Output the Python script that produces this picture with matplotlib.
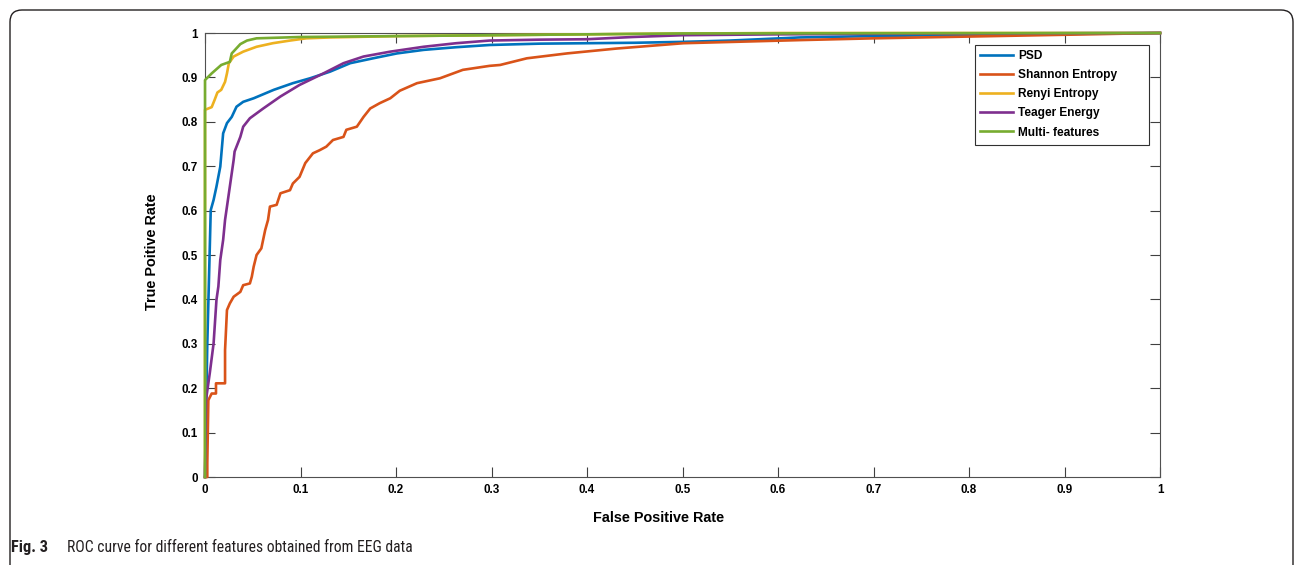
import numpy as np
import matplotlib
matplotlib.use("Agg")
from matplotlib import pyplot as plt
from matplotlib.patches import FancyBboxPatch, Rectangle

# ROC points (false positive rate, true positive rate)
psd_fpr = [0, 0.0024, 0.0045, 0.006, 0.009, 0.012, 0.016, 0.019, 0.023, 0.028, 0.033, 0.040, 0.051,
           0.072, 0.092, 0.110, 0.131, 0.152, 0.176, 0.201, 0.229, 0.263, 0.298, 0.35, 0.40, 0.45,
           0.50, 0.55, 0.623, 0.70, 0.80, 0.90, 1.0]
psd_tpr = [0, 0.301, 0.474, 0.601, 0.624, 0.654, 0.699, 0.774, 0.797, 0.811, 0.834, 0.845, 0.853,
           0.872, 0.887, 0.898, 0.913, 0.932, 0.943, 0.954, 0.962, 0.968, 0.973, 0.976, 0.977, 0.978,
           0.980, 0.983, 0.990, 0.993, 0.996, 0.998, 1.0]

shannon_fpr = [0, 0.0024, 0.0024, 0.0035, 0.007, 0.0115, 0.0115, 0.021, 0.021, 0.023, 0.026, 0.030,
               0.037, 0.040, 0.047, 0.049, 0.051, 0.054, 0.059, 0.063, 0.066, 0.068, 0.075, 0.079,
               0.089, 0.092, 0.099, 0.105, 0.113, 0.120, 0.127, 0.134, 0.145, 0.148, 0.159, 0.166,
               0.173, 0.183, 0.194, 0.204, 0.222, 0.246, 0.270, 0.298, 0.309, 0.337, 0.379, 0.431,
               0.501, 0.553, 0.623, 0.70, 0.80, 0.90, 1.0]
shannon_tpr = [0, 0.0, 0.031, 0.173, 0.188, 0.188, 0.211, 0.211, 0.286, 0.376, 0.391, 0.406,
               0.417, 0.432, 0.436, 0.451, 0.474, 0.500, 0.515, 0.556, 0.579, 0.609, 0.613, 0.639,
               0.646, 0.661, 0.676, 0.707, 0.729, 0.736, 0.744, 0.759, 0.766, 0.782, 0.789, 0.811,
               0.830, 0.842, 0.853, 0.870, 0.887, 0.898, 0.917, 0.926, 0.928, 0.943, 0.954, 0.965,
               0.977, 0.980, 0.984, 0.988, 0.992, 0.996, 1.0]

renyi_fpr = [0, 0, 0.007, 0.010, 0.013, 0.017, 0.021, 0.023, 0.025, 0.030, 0.040, 0.054, 0.071,
             0.089, 0.106, 0.131, 0.20, 0.30, 0.45, 0.60, 1.0]
renyi_tpr = [0, 0.827, 0.833, 0.849, 0.866, 0.872, 0.890, 0.909, 0.932, 0.947, 0.958, 0.969, 0.977,
             0.983, 0.988, 0.990, 0.993, 0.995, 0.998, 1.0, 1.0]

teager_fpr = [0, 0.001, 0.005, 0.009, 0.012, 0.014, 0.016, 0.019, 0.021, 0.024, 0.027, 0.030, 0.031,
              0.037, 0.040, 0.047, 0.061, 0.079, 0.099, 0.124, 0.145, 0.166, 0.194, 0.229, 0.263,
              0.298, 0.35, 0.40, 0.448, 0.50, 0.60, 0.80, 1.0]
teager_tpr = [0, 0.173, 0.234, 0.301, 0.399, 0.429, 0.489, 0.534, 0.579, 0.624, 0.669, 0.714, 0.733,
              0.766, 0.789, 0.808, 0.830, 0.857, 0.883, 0.909, 0.932, 0.947, 0.958, 0.969, 0.977,
              0.983, 0.985, 0.986, 0.991, 0.995, 0.997, 0.999, 1.0]

multi_fpr = [0, 0, 0.007, 0.017, 0.026, 0.028, 0.037, 0.044, 0.054, 0.10, 0.20, 0.30, 0.50, 1.0]
multi_tpr = [0, 0.894, 0.909, 0.928, 0.935, 0.954, 0.975, 0.983, 0.988, 0.991, 0.993, 0.995, 0.999, 1.0]

labels = ["PSD", "Shannon Entropy", "Renyi Entropy", "Teager Energy", "Multi- features"]
colors = ["#0072BD", "#D95319", "#EDB120", "#7E2F8E", "#77AC30"]
ticks = np.round(np.arange(0, 1.01, 0.1), 1)
tick_labels = ["0"] + ["%.1f" % t for t in ticks[1:-1]] + ["1"]

plt.rcParams['font.family'] = ['Liberation Sans', 'DejaVu Sans']

fig = plt.figure(figsize=(12.95, 5.65), dpi=100)
ax = fig.add_axes([205 / 1295, 1 - 477 / 565, 955 / 1295, 444 / 565])

curves = [(psd_fpr, psd_tpr), (shannon_fpr, shannon_tpr), (renyi_fpr, renyi_tpr),
          (teager_fpr, teager_tpr), (multi_fpr, multi_tpr)]
for (x, y), lab, c in zip(curves, labels, colors):
    ax.plot(x, y, color=c, lw=1.9, label=lab, clip_on=False, zorder=3)

ax.set_xlim(0, 1)
ax.set_ylim(0, 1)
ax.set_xticks(ticks)
ax.set_xticklabels(tick_labels)
ax.set_yticks(ticks)
ax.set_yticklabels(tick_labels)
ax.tick_params(direction='in', length=7, width=0.8, color='#404040', top=True, right=True,
               labelsize=8.4, pad=5)
for lab in ax.get_xticklabels() + ax.get_yticklabels():
    lab.set_fontweight('bold')
for s in ax.spines.values():
    s.set_color('#505050')
    s.set_linewidth(0.8)

ax.set_xlabel("False Positive Rate", fontsize=10.4, fontweight='bold')
ax.xaxis.set_label_coords(0.475, -0.0766)
ax.set_ylabel("True Poitive Rate", fontsize=10.4, fontweight='bold')
ax.yaxis.set_label_coords(-0.048, 0.507)

# MATLAB-style legend: wide box with room on the right
ax.add_patch(Rectangle((0.806, 0.748), 0.1825, 0.225, transform=ax.transAxes, facecolor='white',
                       edgecolor='#303030', lw=0.8, zorder=4))
leg = ax.legend(loc='upper left', bbox_to_anchor=(0.8115, 0.962), frameon=False,
                prop={'weight': 'bold', 'size': 8.6}, handlelength=2.75, handletextpad=0.42,
                labelspacing=0.6, borderpad=0, borderaxespad=0)
leg.set_zorder(5)

# rounded frame around the figure panel
frame = FancyBboxPatch((10, -60), 1283, 615, boxstyle="round,pad=0,rounding_size=12",
                       transform=None, fill=False, edgecolor='#231f20', lw=1.0)
fig.patches.append(frame)

cap_font = ['Roboto Condensed', 'Liberation Sans Narrow', 'DejaVu Sans Condensed', 'Roboto']
t2 = fig.text(67 / 1295, 1 - 552 / 565, "ROC curve for different features obtained from EEG data",
              fontsize=12.5, family=cap_font, color='#231f20', va='baseline')

# fit caption width to the reference (the original face is a narrow font)
r = fig.canvas.get_renderer()
cap_size = min(14.5, 12.5 * 348 / t2.get_window_extent(r).width)
t2.set_fontsize(cap_size)
fig.text(11 / 1295, 1 - 552 / 565, "Fig. 3", fontsize=cap_size + 0.5, fontweight='bold',
         family=cap_font, color='#231f20', va='baseline')

fig.savefig('out.png', dpi=100)
